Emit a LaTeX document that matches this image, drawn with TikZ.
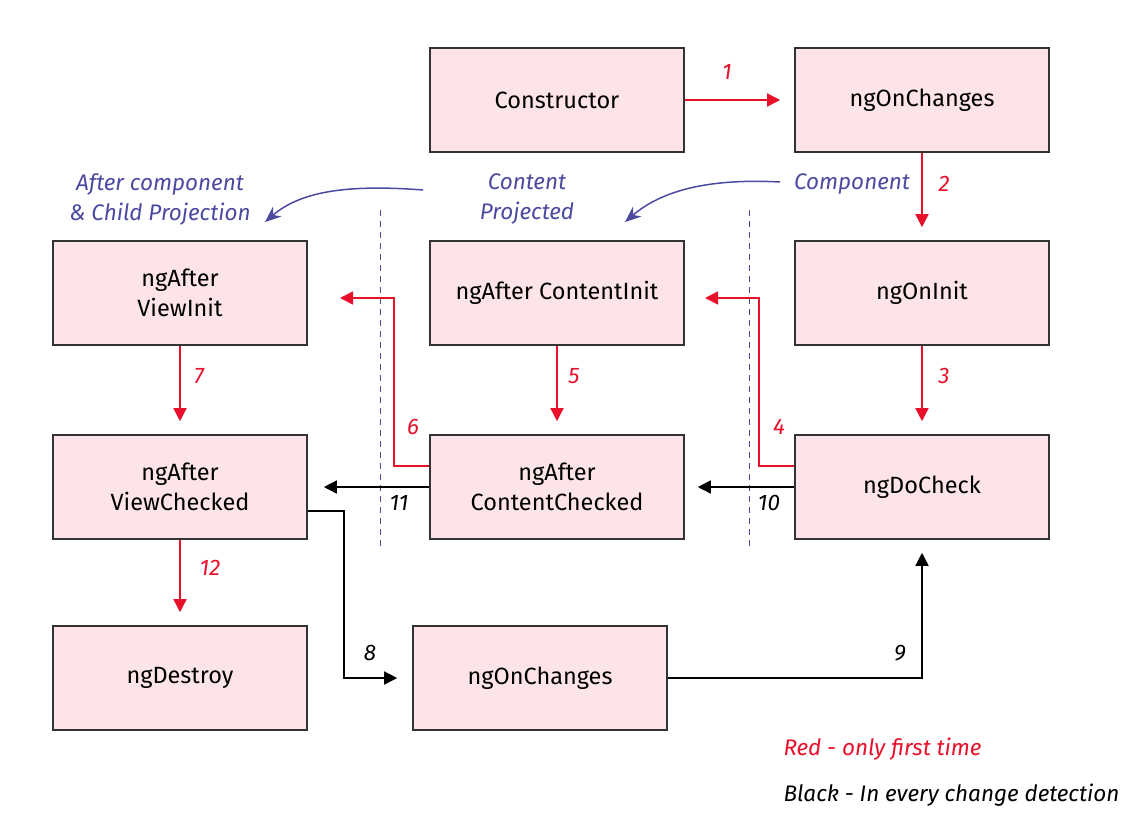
\documentclass[tikz,border=0pt]{standalone}
\usepackage{fontspec}
\setmainfont{Fira Sans}
\usetikzlibrary{arrows.meta,calc}
\definecolor{boxfill}{HTML}{FDE4E8}
\definecolor{boxdraw}{HTML}{333333}
\definecolor{lred}{HTML}{E8102A}
\definecolor{lblue}{HTML}{4B4AA0}
\begin{document}
\begin{tikzpicture}[x=1pt,y=-1pt,
  box/.style={draw=boxdraw,fill=boxfill,line width=1.6pt,minimum width=254pt,minimum height=104pt,align=center,font=\fontsize{23.5}{30}\selectfont,inner sep=0pt},
  redarr/.style={draw=lred,line width=1.5pt,-{Triangle[length=13pt,width=13pt]}},
  blackarr/.style={draw=black,line width=1.5pt,-{Triangle[length=13pt,width=13pt]}},
  bluearr/.style={draw=lblue,line width=1.5pt,-{Stealth[length=16pt,width=13pt]}},
  num/.style={font=\fontsize{22.5}{25}\selectfont\itshape},
  rednum/.style={num,text=lred},
  bluetxt/.style={font=\fontsize{22.5}{30}\selectfont\itshape,text=lblue,align=center},
  sep/.style={draw=lblue,line width=1pt,dash pattern=on 6pt off 5pt}]
\useasboundingbox (0,0) rectangle (1134,839);

\node[box] (ctor) at (557,100) {Constructor};
\node[box] (chg1) at (922,100) {ngOnChanges};
\node[box] (init) at (922,293) {ngOnInit};
\node[box] (ci)   at (557,293) {ngAfter ContentInit};
\node[box] (vi)   at (180,293) {ngAfter\\ViewInit};
\node[box] (chk)  at (922,487) {ngDoCheck};
\node[box] (cc)   at (557,487) {ngAfter\\ContentChecked};
\node[box] (vc)   at (180,487) {ngAfter\\ViewChecked};
\node[box] (dest) at (180,678) {ngDestroy};
\node[box] (chg2) at (540,678) {ngOnChanges};

% separators
\coordinate (s1a) at (380,210); \coordinate (s1b) at (380,550);
\coordinate (s2a) at (749,210); \coordinate (s2b) at (749,550);
\draw[sep] (s1a) -- (s1b);
\draw[sep] (s2a) -- (s2b);

% section labels
\node[bluetxt] (lab1) at (160,199) {After component\\\& Child Projection};
\node[bluetxt] (lab2) at (527,199) {Content\\Projected};
\node[bluetxt] (lab3) at (852,184) {Component};
\coordinate (b1s) at (423,190); \coordinate (b1e) at (265,222);
\coordinate (b2s) at (780,182); \coordinate (b2e) at (625,222);
\draw[bluearr] (b1s) .. controls (345,184) and (300,192) .. (b1e);
\draw[bluearr] (b2s) .. controls (705,178) and (660,192) .. (b2e);

% red arrows
\draw[redarr,shorten >=14pt] (ctor.east) -- (chg1.west);
\node[rednum] at (727,72) {1};
\draw[redarr,shorten >=13pt] (chg1.south) -- (init.north);
\node[rednum] at (944,184) {2};
\draw[redarr,shorten >=13pt] (init.south) -- (chk.north);
\node[rednum] at (944,376) {3};
\draw[redarr,shorten >=13pt] (ci.south) -- (cc.north);
\node[rednum] at (574,376) {5};
\draw[redarr,shorten >=13pt] (vi.south) -- (vc.north);
\node[rednum] at (199,376) {7};
\draw[redarr,shorten >=13pt] (vc.south) -- (dest.north);
\node[rednum] at (210,568) {12};
\coordinate (a4) at (705,298);
\draw[redarr] ([yshift=21pt]chk.west) -- ++(-35,0) |- (a4);
\node[rednum] at (779,427) {4};
\coordinate (a6) at (340,298);
\draw[redarr] ([yshift=21pt]cc.west) -- ++(-35,0) |- (a6);
\node[rednum] at (413,427) {6};

% black arrows
\draw[blackarr,shorten >=13pt] (chk.west) -- (cc.east);
\node[num] at (769,503) {10};
\draw[blackarr,shorten >=16pt] (cc.west) -- (vc.east);
\node[num] at (399,503) {11};
\draw[blackarr,shorten >=15pt] ([yshift=-24pt]vc.east) -- ++(36,0) |- (chg2.west);
\node[num] at (370,653) {8};
\draw[blackarr,shorten >=13pt] (chg2.east) -| (chk.south);
\node[num] at (900,653) {9};

% legend
\node[font=\fontsize{22.5}{25}\selectfont\itshape,text=lred,anchor=west] (leg1) at (780,749) {Red - only first time};
\node[font=\fontsize{22.5}{25}\selectfont\itshape,anchor=west] (leg2) at (780,795) {Black - In every change detection};
\end{tikzpicture}
\end{document}
